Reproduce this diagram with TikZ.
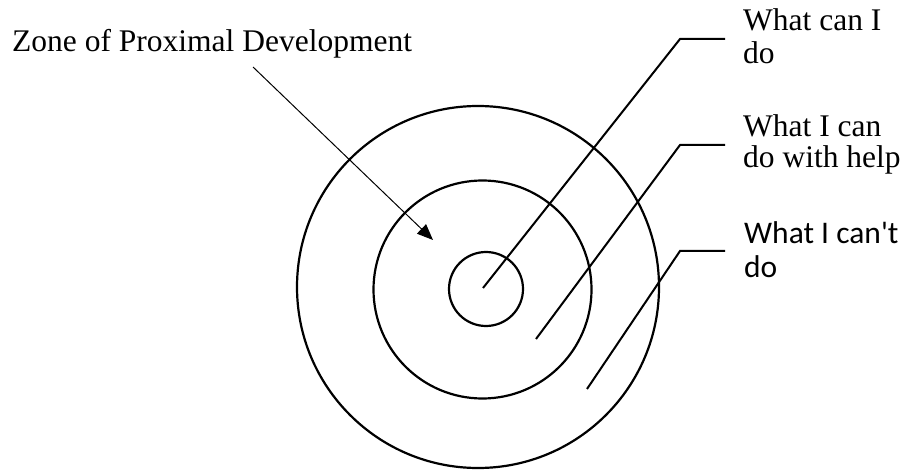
\documentclass[tikz,border=0pt]{standalone}
\usepackage{fontspec}
\setmainfont{Liberation Serif}
\newfontfamily\calib{Carlito}
\usetikzlibrary{arrows.meta}
\newcommand{\twolines}[2]{\begin{tabular}[b]{@{}l@{}}#1\\#2\end{tabular}}
\begin{document}
\begin{tikzpicture}[x=1pt,y=-1pt,
 ring/.style={circle,draw,line width=2.2pt,inner sep=0pt,outer sep=0pt},
 leader/.style={line width=2pt},
 lbl/.style={anchor=base west,inner sep=0pt,font=\rmfamily\fontsize{31.5}{33}\selectfont}]
\useasboundingbox (0,0) rectangle (907,470);
\node[ring,minimum size=362pt] (outer) at (478,287) {};
\node[ring,minimum size=218pt] (middle) at (482.5,289.5) {};
\node[ring,minimum size=74pt] (inner) at (486,289) {};
\node[lbl] (zpd) at (12,52) {Zone of Proximal Development};
\coordinate (zs) at (253,67);
\coordinate (zt) at (433,240);
\draw[line width=1pt,-{Triangle[length=16pt,width=13pt]}] (zs) -- (zt);
\coordinate (s1) at (483,288);
\coordinate (b1) at (680,39);
\coordinate (e1) at (725,39);
\coordinate (s2) at (536,339);
\coordinate (b2) at (680,145);
\coordinate (e2) at (725,145);
\coordinate (s3) at (587,389);
\coordinate (b3) at (680,251);
\coordinate (e3) at (725,251);
\draw[leader] (s1) -- (b1) -- (e1);
\draw[leader] (s2) -- (b2) -- (e2);
\draw[leader] (s3) -- (b3) -- (e3);
\node[lbl,font=\rmfamily\fontsize{31.5}{33}\selectfont] (t1) at (743,64) {\twolines{What can I}{do}};
\node[lbl,font=\rmfamily\fontsize{31.5}{30.5}\selectfont] (t2) at (743,168) {\twolines{What I can}{do with help}};
\node[lbl,font=\calib\fontsize{31.5}{34}\selectfont] (t3) at (744,277) {\twolines{What I can\textquotesingle t}{do}};
\end{tikzpicture}
\end{document}
